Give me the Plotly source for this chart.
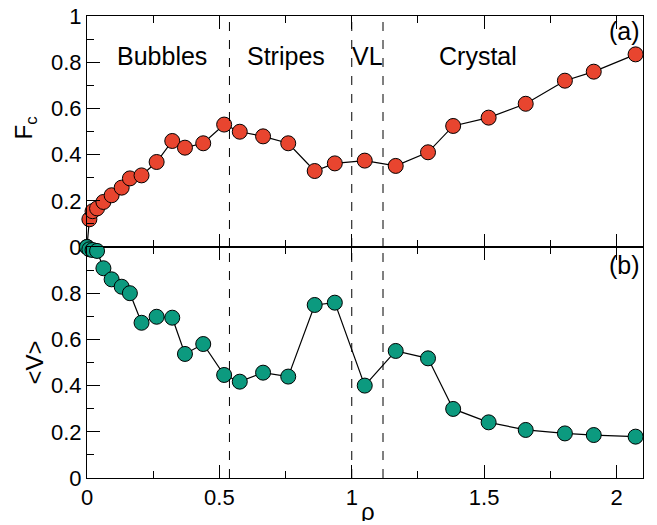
import plotly.graph_objects as go
from plotly.subplots import make_subplots

rho = [0, 0.009, 0.021, 0.038, 0.062, 0.093, 0.131, 0.162, 0.206, 0.263, 0.322,
       0.37, 0.439, 0.518, 0.577, 0.665, 0.76, 0.86, 0.936, 1.049, 1.166, 1.288,
       1.383, 1.517, 1.657, 1.805, 1.914, 2.072]
fc = [0, 0.12, 0.155, 0.167, 0.195, 0.224, 0.257, 0.297, 0.31, 0.368, 0.459,
      0.43, 0.449, 0.53, 0.499, 0.479, 0.449, 0.329, 0.362, 0.374, 0.351, 0.41,
      0.524, 0.56, 0.62, 0.72, 0.759, 0.834]
v = [1.0, 0.99, 0.987, 0.983, 0.908, 0.86, 0.828, 0.80, 0.672, 0.698, 0.694,
     0.537, 0.58, 0.446, 0.417, 0.456, 0.439, 0.749, 0.759, 0.40, 0.55, 0.518,
     0.299, 0.241, 0.208, 0.193, 0.186, 0.179]
boundaries = [0.538, 1.0, 1.118]
phase_labels = ["Bubbles", "Stripes", "VL", "Crystal"]
phase_x = [0.285, 0.75, 1.06, 1.475]
x_ticks = [0, 0.5, 1, 1.5, 2]
x_ticktext = ["0", "0.5", "1", "1.5", "2"]

FONT = "Liberation Sans, Arial, sans-serif"
TICKF = dict(size=22, color="black", family=FONT)
ANNF = dict(size=25, color="black", family=FONT)
TITF = dict(size=24, color="black", family=FONT)

fig = make_subplots(rows=2, cols=1, shared_xaxes=False, vertical_spacing=0)

fig.add_trace(go.Scatter(x=rho, y=fc, mode="lines+markers",
                         line=dict(color="black", width=1.2),
                         marker=dict(size=15, color="#E8452F",
                                     line=dict(color="black", width=1)),
                         cliponaxis=False, showlegend=False), row=1, col=1)
fig.add_trace(go.Scatter(x=rho, y=v, mode="lines+markers",
                         line=dict(color="black", width=1.2),
                         marker=dict(size=15, color="#0C9A7F",
                                     line=dict(color="black", width=1)),
                         cliponaxis=False, showlegend=False), row=2, col=1)

for b in boundaries:
    for r in (1, 2):
        fig.add_vline(x=b, line=dict(color="black", width=1, dash="dash"), row=r, col=1)

for lab, px in zip(phase_labels, phase_x):
    fig.add_annotation(x=px, y=0.825, xref="x", yref="y", text=lab, showarrow=False,
                       font=ANNF)
fig.add_annotation(x=2.095, y=0.935, xref="x", yref="y", text="(a)", showarrow=False,
                   xanchor="right", font=ANNF)
fig.add_annotation(x=2.095, y=0.92, xref="x2", yref="y2", text="(b)", showarrow=False,
                   xanchor="right", font=ANNF)

# axis titles
fig.add_annotation(x=0.505, y=0, xref="paper", yref="paper", text="ρ", showarrow=False,
                   xanchor="center", yanchor="middle", yshift=-33, height=20,
                   font=TITF)
fig.add_annotation(x=0, y=0.513, xref="paper", yref="y", text="F<sub>c</sub>",
                   showarrow=False, textangle=-90, xanchor="center", yanchor="middle",
                   xshift=-62, font=TITF)
fig.add_annotation(x=0, y=0.5, xref="paper", yref="y2", text="&lt;V&gt;",
                   showarrow=False, textangle=-90, xanchor="center", yanchor="middle",
                   xshift=-53, font=TITF)

xcommon = dict(range=[0, 2.1], ticks="inside", ticklen=13, tickcolor="black",
               tickwidth=1, showline=True, linecolor="black", linewidth=1,
               mirror="allticks", showgrid=False, zeroline=False, automargin=False,
               tickvals=x_ticks, ticklabeloverflow="allow",
               minor=dict(ticks="inside", ticklen=7, tickcolor="black",
                          tickmode="linear", tick0=0, dtick=0.25, showgrid=False),
               tickfont=TICKF)
fig.update_xaxes(**xcommon, showticklabels=False, row=1, col=1)
fig.update_xaxes(**xcommon, ticktext=x_ticktext, showticklabels=True, row=2, col=1)

ycommon = dict(range=[0, 1], ticks="inside", ticklen=13, tickcolor="black",
               tickwidth=1, showline=True, linecolor="black", linewidth=1,
               mirror=True, showgrid=False, zeroline=False, automargin=False,
               ticklabeloverflow="allow",
               minor=dict(ticks="inside", ticklen=7, tickcolor="black",
                          tickmode="linear", tick0=0, dtick=0.1, showgrid=False),
               tickfont=TICKF)
fig.update_yaxes(**ycommon, tickvals=[0, 0.2, 0.4, 0.6, 0.8, 1],
                 ticktext=["0", "0.2", "0.4", "0.6", "0.8", "1"], row=1, col=1)
fig.update_yaxes(**ycommon, tickvals=[0, 0.2, 0.4, 0.6, 0.8],
                 ticktext=["0", "0.2", "0.4", "0.6", "0.8"], row=2, col=1)

fig.update_layout(width=657, height=525, margin=dict(l=87, r=14, t=16, b=47),
                  plot_bgcolor="white", paper_bgcolor="white",
                  font=dict(family=FONT, color="black"))

# remove the page's default body margin so the figure fills the window
fig.write_html("out.html", config={"displayModeBar": False},
               post_script="document.body.style.margin='0';document.body.style.overflow='hidden';")
